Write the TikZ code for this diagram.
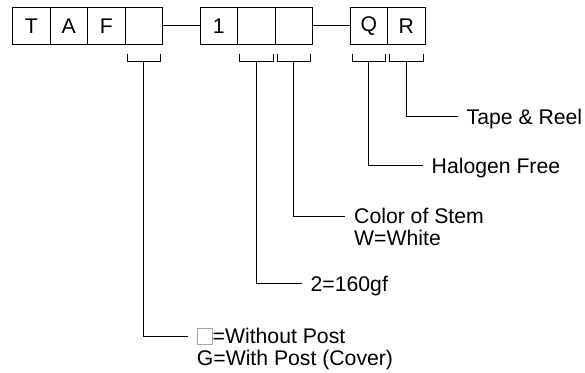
\documentclass[tikz,border=0pt]{standalone}
\usepackage{fontspec}
\setmainfont{Liberation Sans}
\begin{document}
\begin{tikzpicture}[x=1pt,y=-1pt,
  every node/.style={font=\fontsize{21.2}{21}\selectfont},
  cell/.style={draw,line width=1pt,minimum width=37.5pt,minimum height=37.5pt,inner sep=0pt,anchor=center},
  lbl/.style={inner sep=0pt,anchor=west,text height=15pt,text depth=0pt},
  wire/.style={line width=1pt},
  brk/.style={line width=1pt},
  blank/.style={draw=gray!70,line width=0.8pt,minimum width=15pt,minimum height=16pt,inner sep=0pt,anchor=west}
]
\useasboundingbox (0,0) rectangle (585,372);
% part number cells
\node[cell] (c1) at (31.25,25.75) {T};
\node[cell] (c2) at (68.75,25.75) {A};
\node[cell] (c3) at (106.25,25.75) {F};
\node[cell] (c4) at (143.75,25.75) {};
\node[cell] (c5) at (218.75,25.75) {1};
\node[cell] (c6) at (256.25,25.75) {};
\node[cell] (c7) at (293.75,25.75) {};
\node[cell] (c8) at (368.75,25.75) {Q};
\node[cell] (c9) at (406.25,25.75) {R};
\draw[wire] (c4.east) -- (c5.west);
\draw[wire] (c7.east) -- (c8.west);
% labels
\node[lbl] (lR) at (466.5,116.5) {Tape \& Reel};
\node[lbl] (lQ) at (431.5,165.5) {Halogen Free};
\node[lbl] (lS) at (354,216) {Color of Stem};
\node[lbl] (lS2) at (354,238) {W=White};
\node[lbl] (lF) at (310.5,283.5) {2=160gf};
\node[blank] (bx) at (196.7,336.2) {};
\node[lbl] (lP) at (bx.east) {=Without Post};
\node[lbl] (lP2) at (196.7,358) {G=With Post (Cover)};
% brackets and leaders
\foreach \c/\l in {c4/bx, c6/lF, c7/lS, c8/lQ, c9/lR}{
  \coordinate (\c bl) at ([xshift=2.5pt,yshift=-16.5pt]\c.south west);
  \coordinate (\c br) at ([xshift=-2.5pt,yshift=-16.5pt]\c.south east);
  \coordinate (\c m) at ([yshift=-16.5pt]\c.south);
  \draw[brk] ([yshift=8pt]\c bl) -- (\c bl) -- (\c br) -- ([yshift=8pt]\c br);
  \draw[wire] (\c m) |- ([xshift=-9pt]\l.west);
}
\end{tikzpicture}
\end{document}
